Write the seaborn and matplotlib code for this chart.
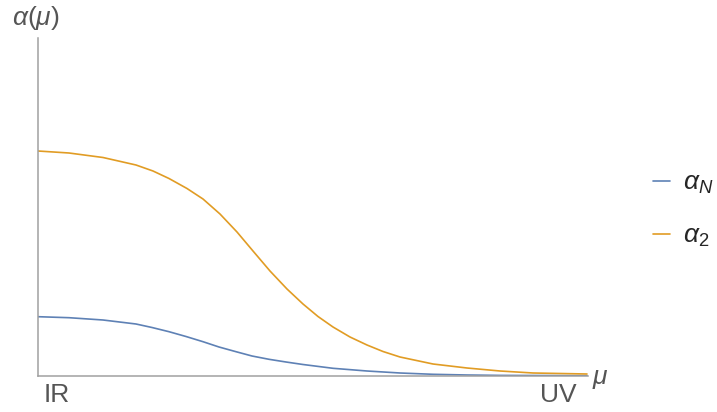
import matplotlib
matplotlib.use("Agg")
import matplotlib.pyplot as plt
import seaborn as sns
import pandas as pd

# Running couplings vs. energy scale (arbitrary units)
mu_2 = [0, 31, 65, 98, 115, 131, 149, 165, 182, 199, 215, 232, 249, 265, 280,
        295, 312, 329, 345, 362, 395, 429, 462, 495, 549]
alpha_2 = [225, 223, 218.5, 211, 205, 197.5, 187.5, 177, 162, 144, 125, 105,
           87, 72, 59.5, 49, 39, 31, 24.5, 19, 12, 8, 5, 3, 2]
mu_N = [0, 31, 65, 98, 114, 131, 148, 165, 181, 198, 214, 231, 248, 265, 295,
        329, 362, 395, 429, 462, 495, 549]
alpha_N = [59.3, 58.3, 56, 52, 48.5, 44.3, 39.5, 34.3, 29, 24.3, 20, 16.7, 14,
           11.5, 7.7, 5, 3, 1.7, 1, 0.6, 0.5, 0.3]

tick_pos = [19, 520]
tick_labels = ["IR", "UV"]
series_names = [r"$\alpha_N$", r"$\alpha_2$"]

sns.set_style("white")
plt.rcParams["font.family"] = ["Liberation Sans", "DejaVu Sans"]
plt.rcParams["mathtext.fontset"] = "custom"
plt.rcParams["mathtext.it"] = "Liberation Sans:italic"
plt.rcParams["mathtext.rm"] = "Liberation Sans"

df = pd.DataFrame({
    "mu": mu_N + mu_2,
    "alpha": alpha_N + alpha_2,
    "coupling": [series_names[0]] * len(mu_N) + [series_names[1]] * len(mu_2),
})

palette = {series_names[0]: "#5E81B5", series_names[1]: "#E19C24"}

fig = plt.figure(figsize=(7.17, 4.12), dpi=100)
ax = fig.add_axes([38 / 717, 36 / 412, 550 / 717, 338 / 412])
sns.lineplot(data=df, x="mu", y="alpha", hue="coupling", palette=palette,
             linewidth=1.2, ax=ax, legend=False)

ax.set_xlim(0, 550)
ax.set_ylim(0, 338)
ax.set_xticks(tick_pos)
ax.set_xticklabels(tick_labels)
ax.set_yticks([])
ax.set_xlabel("")
ax.set_ylabel("")
for side in ["top", "right"]:
    ax.spines[side].set_visible(False)
for side in ["left", "bottom"]:
    ax.spines[side].set_color("#a0a0a0")
    ax.spines[side].set_linewidth(1.1)
ax.tick_params(axis="x", direction="in", length=4, width=0.8, color="#808080",
               labelsize=19, labelcolor="#555555", pad=5)

fig.text(12 / 717, 1 - 18 / 412, r"$\alpha(\mu)$", fontsize=19, color="#555555",
         ha="left", va="center")
fig.text(592 / 717, 1 - 379 / 412, r"$\mu$", fontsize=19, color="#555555",
         ha="left", va="center")

handles = [plt.Line2D([], [], color=palette[n], lw=1.2) for n in series_names]
fig.legend(handles, series_names, loc="center left",
           bbox_to_anchor=(653 / 717, 1 - 210 / 412), frameon=False,
           fontsize=19, handlelength=0.65, handletextpad=0.5, labelspacing=1.05,
           borderpad=0, borderaxespad=0)

fig.savefig("out.png", dpi=100)
